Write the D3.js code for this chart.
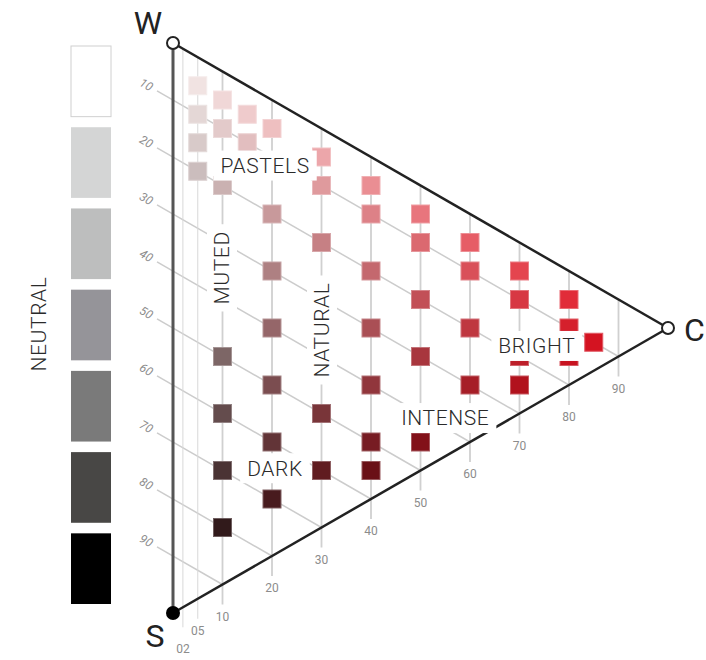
<!DOCTYPE html>
<html>
<head>
	<title>Colour Triangle</title>
	<meta charset="utf-8">
	<script src="https://cdn.jsdelivr.net/npm/d3@7"></script>
	<style>
		body { margin: 0; background: #fff; }
		svg { display: block; font-family: Roboto, "Open Sans", sans-serif; }
	</style>
</head>
<body>
	<div id="chartDiv"></div>
	<script>

		// grid ticks
		const chromaTicks = [2, 5, 10, 20, 30, 40, 50, 60, 70, 80, 90];
		const blackTicks = [10, 20, 30, 40, 50, 60, 70, 80, 90];

		// colour samples (chromaticness / blackness, NCS style)
		const sampleChroma = [5, 5, 5, 5,
			10, 10, 10, 10, 10, 10, 10,
			15, 15,
			20, 20, 20, 20, 20, 20, 20,
			30, 30, 30, 30, 30,
			40, 40, 40, 40, 40, 40, 40,
			50, 50, 50, 50, 50,
			60, 60, 60, 60,
			70, 70, 70, 70,
			80, 80, 80,
			85];
		const sampleBlack = [5, 10, 15, 20,
			5, 10, 20, 50, 60, 70, 80,
			5, 10,
			5, 20, 30, 40, 50, 60, 70,
			5, 10, 20, 50, 60,
			5, 10, 20, 30, 40, 50, 55,
			5, 10, 20, 30, 45,
			5, 10, 20, 30,
			5, 10, 20, 25,
			5, 10, 15,
			10];

		// neutral scale on the left
		const neutralGreys = ['#ffffff', '#d4d5d5', '#bdbebe', '#959499', '#7a7a7a', '#484745', '#000000'];

		// zone names
		const zoneNames = ['PASTELS', 'MUTED', 'NATURAL', 'BRIGHT', 'INTENSE', 'DARK'];

		// layout: where each zone name sits in triangle coords, and its rotation
		const zoneLayout = {
			PASTELS: { c: 18.6, s: 12.2, rot: 0 },
			MUTED: { c: 9.9, s: 34.5, rot: -90 },
			NATURAL: { c: 30.1, s: 35.3, rot: -90 },
			BRIGHT: { c: 73.5, s: 16.4, rot: 0 },
			INTENSE: { c: 55, s: 38.3, rot: 0 },
			DARK: { c: 20.6, s: 64.3, rot: 0 }
		};

		const width = 706, height = 660;
		const W = { x: 173, y: 43 }, S = { x: 173, y: 613 }, C = { x: 668, y: 328 };

		const svg = d3.select('#chartDiv').append('svg')
			.attr('width', width)
			.attr('height', height);

		// scales: chroma moves right (and down), blackness moves down
		const xScale = d3.scaleLinear().domain([0, 100]).range([W.x, C.x]);
		const sScale = d3.scaleLinear().domain([0, 100]).range([W.y, S.y]);
		const cShift = d3.scaleLinear().domain([0, 100]).range([0, C.y - W.y]);
		const px = (c, s) => [xScale(c), sScale(s) + cShift(c)];

		const hue = d3.rgb(234, 8, 24);
		const white = d3.rgb(255, 252, 250);
		const sampleColour = (c, s) => {
			const w = (100 - c - s) / 100;
			return d3.rgb(white.r * w + hue.r * c / 100, white.g * w + hue.g * c / 100, white.b * w + hue.b * c / 100);
		};

		const gridG = svg.append('g').attr('class', 'grid');
		const slope = (C.y - W.y) / (C.x - W.x);

		// blackness lines (parallel to W-C), running past the left edge
		blackTicks.forEach(s => {
			const a = px(0, s), b = px(100 - s, s);
			const ext = 16;
			gridG.append('line')
				.attr('x1', a[0] - ext).attr('y1', a[1] - ext * slope)
				.attr('x2', b[0]).attr('y2', b[1])
				.attr('stroke', '#cccccc').attr('stroke-width', 1.5);
			const lx = a[0] - 21, ly = a[1] - 21 * slope;
			gridG.append('text')
				.attr('transform', `translate(${lx},${ly}) rotate(30)`)
				.attr('text-anchor', 'end')
				.attr('dy', '0.35em')
				.attr('font-size', 12)
				.attr('font-style', 'italic')
				.attr('fill', '#8c8c8c')
				.text(s);
		});

		// chromaticness lines (vertical), running past the bottom edge
		chromaTicks.forEach(c => {
			const top = px(c, 0), bot = px(c, 100 - c);
			const minor = c < 10;
			gridG.append('line')
				.attr('x1', top[0]).attr('y1', top[1])
				.attr('x2', bot[0]).attr('y2', bot[1] + 20)
				.attr('stroke', minor ? '#d8d8d8' : '#d0d0d0')
				.attr('stroke-width', minor ? 1 : 1.8);
			gridG.append('text')
				.attr('x', bot[0])
				.attr('y', bot[1] + (c < 5 ? 41 : 32))
				.attr('dy', '0.35em')
				.attr('text-anchor', 'middle')
				.attr('font-size', 12)
				.attr('fill', '#8c8c8c')
				.text(d3.format('02d')(c));
		});

		// triangle edges
		const edgeG = svg.append('g');
		edgeG.append('line')
			.attr('x1', W.x).attr('y1', W.y).attr('x2', S.x).attr('y2', S.y)
			.attr('stroke', '#555').attr('stroke-width', 3);
		edgeG.append('line')
			.attr('x1', W.x).attr('y1', W.y).attr('x2', C.x).attr('y2', C.y)
			.attr('stroke', '#222').attr('stroke-width', 2.5);
		edgeG.append('line')
			.attr('x1', S.x).attr('y1', S.y).attr('x2', C.x).attr('y2', C.y)
			.attr('stroke', '#222').attr('stroke-width', 2.5);

		// colour samples
		const samples = sampleChroma.map((c, i) => ({ c: c, s: sampleBlack[i] }));
		const size = 18;
		svg.append('g').selectAll('rect')
			.data(samples)
			.enter().append('rect')
			.attr('x', d => px(d.c, d.s)[0] - size / 2)
			.attr('y', d => px(d.c, d.s)[1] - size / 2)
			.attr('width', size)
			.attr('height', size)
			.attr('fill', d => sampleColour(d.c, d.s))
			.attr('stroke', d => d3.interpolateRgb(sampleColour(d.c, d.s), '#ffffff')(0.3))
			.attr('stroke-width', 1);

		// zone labels with white boxes
		const zoneG = svg.append('g').selectAll('g')
			.data(zoneNames)
			.enter().append('g')
			.attr('transform', d => {
				const p = px(zoneLayout[d].c, zoneLayout[d].s);
				return `translate(${p[0]},${p[1]}) rotate(${zoneLayout[d].rot})`;
			});
		const zoneText = zoneG.append('text')
			.attr('text-anchor', 'middle')
			.attr('dy', '0.35em')
			.attr('font-size', 21)
			.attr('font-weight', 300)
			.attr('letter-spacing', 0.6)
			.attr('fill', '#2a2a2a')
			.text(d => d);
		zoneText.each(function () {
			const bb = this.getBBox();
			d3.select(this.parentNode).insert('rect', 'text')
				.attr('x', bb.x - 7).attr('y', -15)
				.attr('width', bb.width + 14).attr('height', 30)
				.attr('fill', '#fff');
		});

		// corners
		svg.append('circle').attr('cx', W.x).attr('cy', W.y).attr('r', 6)
			.attr('fill', '#fff').attr('stroke', '#222').attr('stroke-width', 2);
		svg.append('circle').attr('cx', C.x).attr('cy', C.y).attr('r', 6)
			.attr('fill', '#fff').attr('stroke', '#222').attr('stroke-width', 2);
		svg.append('circle').attr('cx', S.x).attr('cy', S.y).attr('r', 7)
			.attr('fill', '#000');

		const cornerFont = 32;
		svg.append('text').attr('x', 148).attr('y', 34).attr('text-anchor', 'middle')
			.attr('font-size', cornerFont).attr('fill', '#222').text('W');
		svg.append('text').attr('x', 155).attr('y', 647).attr('text-anchor', 'middle')
			.attr('font-size', cornerFont).attr('fill', '#222').text('S');
		svg.append('text').attr('x', 684).attr('y', 341)
			.attr('font-size', cornerFont).attr('fill', '#222').text('C');

		// neutral scale
		const nScale = d3.scaleBand().domain(d3.range(neutralGreys.length))
			.range([46, 604]).paddingInner(0.13);
		svg.append('g').selectAll('rect')
			.data(neutralGreys)
			.enter().append('rect')
			.attr('x', 71)
			.attr('y', (d, i) => nScale(i))
			.attr('width', 40)
			.attr('height', nScale.bandwidth())
			.attr('fill', d => d)
			.attr('stroke', (d, i) => i === 0 ? '#d0d0d0' : 'none');

		svg.append('text')
			.attr('transform', 'translate(39,324) rotate(-90)')
			.attr('text-anchor', 'middle')
			.attr('dy', '0.35em')
			.attr('font-size', 21)
			.attr('font-weight', 300)
			.attr('letter-spacing', 0.6)
			.attr('fill', '#2a2a2a')
			.text('NEUTRAL');

	</script>
</body>
</html>
